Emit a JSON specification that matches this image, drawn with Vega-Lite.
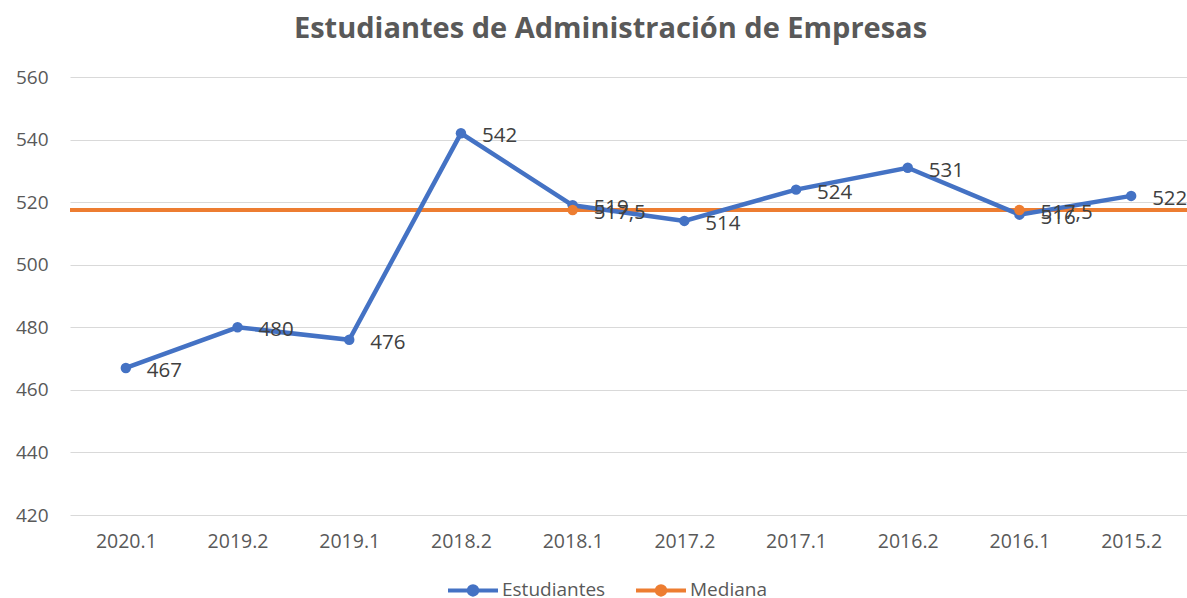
{
  "$schema": "https://vega.github.io/schema/vega-lite/v6.json",
  "width": 1117,
  "height": 438,
  "autosize": {"type": "none"},
  "padding": {"left": 70, "top": 77, "right": 0, "bottom": 83},
  "background": "white",
  "config": {
    "view": {"stroke": null},
    "font": "Open Sans",
    "locale": {"number": {"decimal": ",", "thousands": ".", "grouping": [3], "currency": ["", ""]}}
  },
  "title": {
    "text": "Estudiantes de Administración de Empresas",
    "fontSize": 29,
    "fontWeight": "bold",
    "color": "#595959",
    "font": "Open Sans",
    "anchor": "middle",
    "dx": -18,
    "offset": 24
  },
  "data": {
    "values": [
      {"periodo": "2020.1", "serie": "Estudiantes", "valor": 467},
      {"periodo": "2019.2", "serie": "Estudiantes", "valor": 480},
      {"periodo": "2019.1", "serie": "Estudiantes", "valor": 476},
      {"periodo": "2018.2", "serie": "Estudiantes", "valor": 542},
      {"periodo": "2018.1", "serie": "Estudiantes", "valor": 519},
      {"periodo": "2017.2", "serie": "Estudiantes", "valor": 514},
      {"periodo": "2017.1", "serie": "Estudiantes", "valor": 524},
      {"periodo": "2016.2", "serie": "Estudiantes", "valor": 531},
      {"periodo": "2016.1", "serie": "Estudiantes", "valor": 516},
      {"periodo": "2015.2", "serie": "Estudiantes", "valor": 522},
      {"periodo": "2018.1", "serie": "Mediana", "valor": 517.5},
      {"periodo": "2016.1", "serie": "Mediana", "valor": 517.5}
    ]
  },
  "encoding": {
    "x": {
      "field": "periodo",
      "type": "ordinal",
      "sort": null,
      "scale": {"type": "point", "padding": 0.5},
      "axis": {
        "title": null,
        "ticks": false,
        "domain": false,
        "labelAngle": 0,
        "labelFontSize": 19.5,
        "labelColor": "#595959",
        "labelPadding": 17,
        "grid": false
      }
    },
    "y": {
      "field": "valor",
      "type": "quantitative",
      "scale": {"domain": [420, 560], "nice": false, "zero": false},
      "axis": {
        "title": null,
        "ticks": false,
        "domain": false,
        "values": [420, 440, 460, 480, 500, 520, 540, 560],
        "labelFontSize": 19,
        "labelColor": "#595959",
        "labelPadding": 22,
        "gridColor": "#D9D9D9",
        "gridWidth": 1.2
      }
    },
    "color": {
      "field": "serie",
      "type": "nominal",
      "scale": {"domain": ["Estudiantes", "Mediana"], "range": ["#4472C4", "#ED7D31"]},
      "legend": {
        "title": null,
        "orient": "none",
        "direction": "horizontal",
        "legendX": 376,
        "legendY": 486,
        "symbolType": "M-1,0L1,0M-0.17,0A0.17,0.17 0 1,0 0.17,0A0.17,0.17 0 1,0 -0.17,0",
        "symbolSize": 2500,
        "symbolStrokeWidth": 4,
        "labelFontSize": 19,
        "labelColor": "#595959",
        "labelOffset": 2,
        "columnPadding": 22
      }
    }
  },
  "layer": [
    {
      "transform": [{"filter": "datum.serie == 'Mediana'"}],
      "mark": {"type": "rule", "strokeWidth": 4},
      "encoding": {"x": null}
    },
    {
      "transform": [{"filter": "datum.serie == 'Estudiantes'"}],
      "mark": {"type": "line", "strokeWidth": 4.5}
    },
    {
      "mark": {"type": "point", "filled": true, "size": 110, "opacity": 1}
    },
    {
      "mark": {"type": "text", "align": "left", "baseline": "middle", "dx": 21, "dy": 3, "fontSize": 20.5, "color": "#404040"},
      "encoding": {
        "text": {"field": "valor", "type": "quantitative", "format": "~f"},
        "color": {"value": "#404040"}
      }
    }
  ]
}
